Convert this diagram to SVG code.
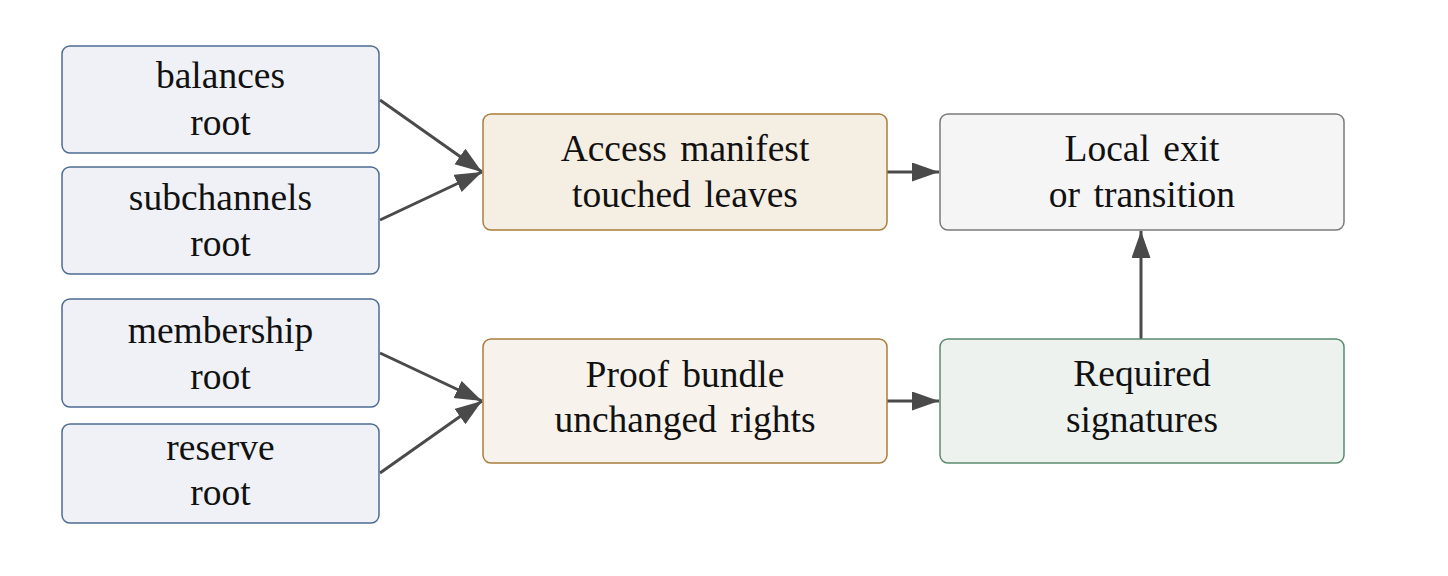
<svg xmlns="http://www.w3.org/2000/svg" width="1448" height="576" viewBox="0 0 1448 576">
<style>
text{font-family:'Liberation Serif','Times New Roman',serif;font-size:37.5px;fill:#111;text-anchor:middle;word-spacing:4px}
.root rect{fill:#eff1f6;stroke:#4d6b93;stroke-width:1.5}
.mid rect{fill:#f5eee3;stroke:#a97d3e;stroke-width:1.5}
.mid2 rect{fill:#f7f3ec;stroke:#a97d3e;stroke-width:1.5}
.out rect{fill:#f5f5f5;stroke:#7a7a7a;stroke-width:1.5}
.sig rect{fill:#edf2ef;stroke:#5b8a6f;stroke-width:1.5}
.edge{stroke:#4a4a4a;stroke-width:3;fill:none;marker-end:url(#ah)}
</style>
<defs>
<marker id="ah" markerUnits="userSpaceOnUse" markerWidth="28" markerHeight="20" refX="27" refY="9.5" orient="auto">
<path d="M0,0 L27,9.5 L0,19 z" fill="#4a4a4a"/>
</marker>
</defs>
<rect width="1448" height="576" fill="#fff"/>
<g id="edges">
<line class="edge" x1="380" y1="100" x2="482" y2="172"/>
<line class="edge" x1="380" y1="220" x2="482" y2="172"/>
<line class="edge" x1="380" y1="353" x2="482" y2="401"/>
<line class="edge" x1="380" y1="473" x2="482" y2="401"/>
<line class="edge" x1="887" y1="172" x2="939" y2="172"/>
<line class="edge" x1="887" y1="401" x2="939" y2="401"/>
<line class="edge" x1="1141" y1="339" x2="1141" y2="231"/>
</g>
<g id="balances" class="root"><rect x="62" y="46" width="317" height="107" rx="8"/><text x="220.5" y="88">balances</text><text x="220.5" y="135">root</text></g>
<g id="subchannels" class="root"><rect x="62" y="167" width="317" height="107" rx="8"/><text x="220.5" y="210">subchannels</text><text x="220.5" y="256">root</text></g>
<g id="membership" class="root"><rect x="62" y="299" width="317" height="108" rx="8"/><text x="220.5" y="343">membership</text><text x="220.5" y="389">root</text></g>
<g id="reserve" class="root"><rect x="62" y="424" width="317" height="99" rx="8"/><text x="220.5" y="460">reserve</text><text x="220.5" y="505">root</text></g>
<g id="access" class="mid"><rect x="483" y="114" width="404" height="116" rx="8"/><text x="685" y="161">Access manifest</text><text x="685" y="207">touched leaves</text></g>
<g id="proof" class="mid2"><rect x="483" y="339" width="404" height="124" rx="8"/><text x="685" y="387">Proof bundle</text><text x="685" y="432">unchanged rights</text></g>
<g id="local" class="out"><rect x="940" y="114" width="404" height="116" rx="8"/><text x="1142" y="161">Local exit</text><text x="1142" y="207">or transition</text></g>
<g id="required" class="sig"><rect x="940" y="339" width="404" height="124" rx="8"/><text x="1142" y="386">Required</text><text x="1142" y="432">signatures</text></g>
</svg>
